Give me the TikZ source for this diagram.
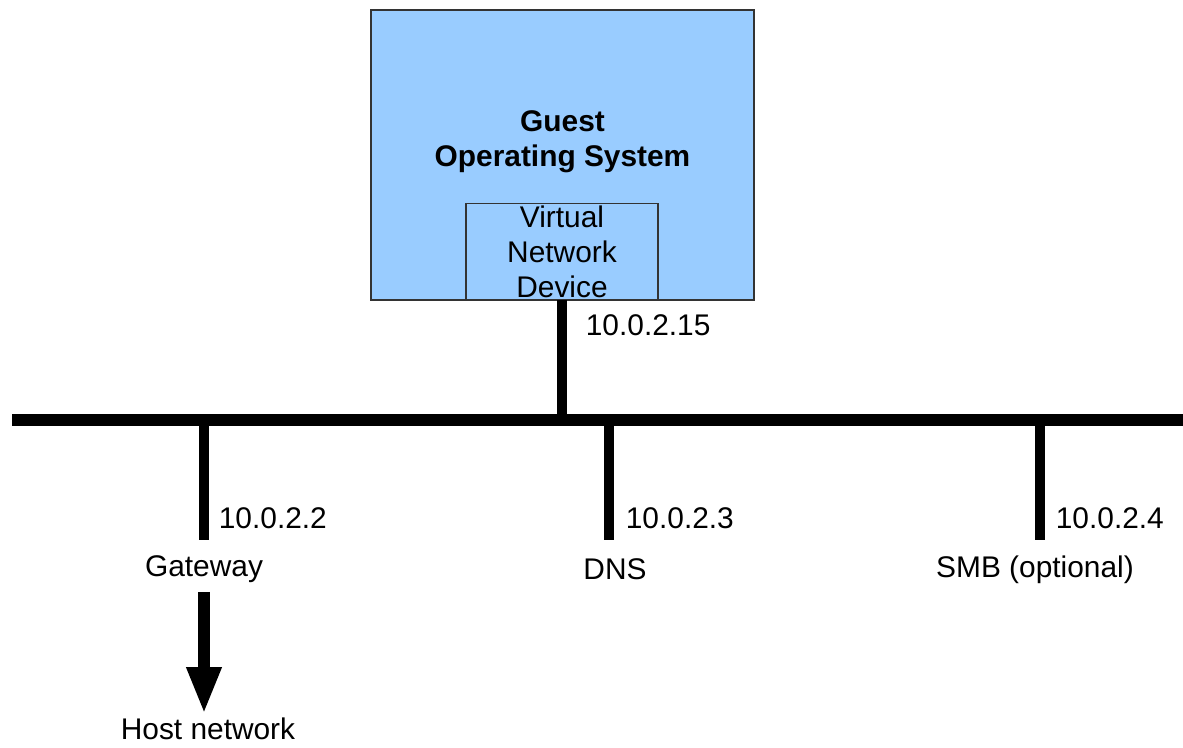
\documentclass[tikz,border=0pt]{standalone}
\usepackage{fontspec}
\setmainfont{Liberation Sans}
\usetikzlibrary{arrows.meta,positioning}
\definecolor{guestblue}{RGB}{153,204,255}

\begin{document}
\begin{tikzpicture}[
    os/.style={rectangle, draw=black!80, fill=guestblue, line width=0.8pt, minimum width=7.66cm, minimum height=5.8cm},
    dev/.style={rectangle, draw=black!80, line width=0.6pt, minimum width=3.84cm, minimum height=1.92cm, align=center, inner sep=0pt, font=\fontsize{17}{20}\selectfont},
    lbl/.style={font=\fontsize{17}{20}\selectfont, inner sep=2pt},
    ip/.style={lbl, anchor=west},
    bus/.style={line width=0.24cm},
    stub/.style={line width=0.2cm},
    hostarrow/.style={line width=0.24cm, -{Triangle[width=0.64cm,length=0.94cm]}}
]
    \useasboundingbox (0,0) rectangle (23.66,14.94);

    \node[os] (guest) at (11.25,11.84) {};
    \node[font=\fontsize{17}{20}\selectfont\bfseries, align=center] (title) at (11.25,12.1) {Guest\\Operating System};
    \node[dev, anchor=south] (vnd) at (11.24,8.94) {Virtual\\Network\\Device};

    % network bus
    \coordinate (busL) at (0.24,6.54);
    \coordinate (busR) at (23.66,6.54);
    \draw[bus] (busL) -- (busR);
    \draw[stub] (vnd.south) -- (vnd.south |- busL);
    \node[ip] (ipguest) at (11.64,8.44) {10.0.2.15};

    % services
    \node[lbl] (gw) at (4.08,3.55) {Gateway};
    \node[lbl] (dns) at (12.3,3.55) {DNS};
    \node[lbl] (smb) at (20.7,3.55) {SMB (optional)};
    \node[lbl] (host) at (4.16,0.36) {Host network};

    \draw[stub] (4.08,6.54) -- (4.08,4.14);
    \draw[stub] (12.18,6.54) -- (12.18,4.14);
    \draw[stub] (20.8,6.54) -- (20.8,4.14);

    \node[ip] (ipgw) at (4.3,4.58) {10.0.2.2};
    \node[ip] (ipdns) at (12.44,4.58) {10.0.2.3};
    \node[ip] (ipsmb) at (21.04,4.58) {10.0.2.4};

    \draw[hostarrow] (gw.south -| 4.08,0) ++(0,-0.1) coordinate (arrtop) -- (arrtop |- host.north);
\end{tikzpicture}
\end{document}
